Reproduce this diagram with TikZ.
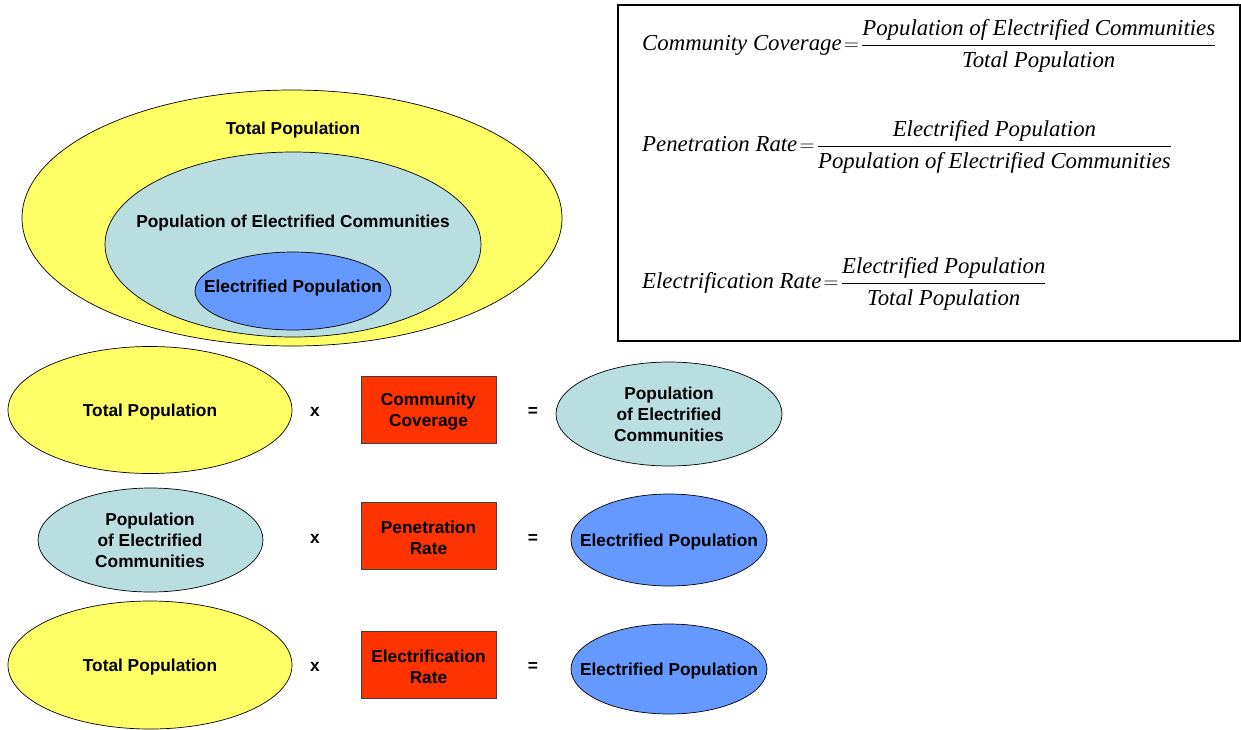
\documentclass[tikz,border=0pt]{standalone}
\usepackage{fontspec}
\setmainfont{Liberation Serif}
\newfontfamily\arialfont{Liberation Sans}
\usetikzlibrary{shapes.geometric}
\definecolor{popyellow}{HTML}{FFFF66}
\definecolor{popteal}{HTML}{B8DEE0}
\definecolor{popblue}{HTML}{6699FF}
\definecolor{popred}{HTML}{FF3300}
\newcommand{\fnum}[1]{\raisebox{1pt}{\itshape #1}}
\newcommand{\fden}[1]{\raisebox{-3pt}{\itshape #1}}
\tikzset{
  ell/.style={ellipse, draw=black, line width=0.7pt, inner sep=0pt},
  lbl/.style={font=\arialfont\bfseries\fontsize{17.3}{21}\selectfont, align=center, text=black, inner sep=0pt},
  lbls/.style={lbl, yshift=-2pt},
  factor/.style={rectangle, draw=black!75, line width=0.7pt, fill=popred, minimum width=135pt, minimum height=67pt, inner sep=0pt},
  formula/.style={anchor=base west, inner sep=0pt, font=\fontsize{22.8}{28}\selectfont},
  fbox/.style={draw=black, line width=1.6pt},
}
\begin{document}
\begin{tikzpicture}[x=1pt,y=-1pt]
\useasboundingbox (0,0) rectangle (1241,729);
% nested ellipses
\node[ell, fill=popyellow, minimum width=540pt, minimum height=256pt] (tp) at (292,218) {};
\node[ell, fill=popteal, minimum width=376pt, minimum height=185pt] (pec) at (293,244.5) {};
\node[ell, fill=popblue, minimum width=196pt, minimum height=78pt] (ep) at (293,291) {};
\node[lbls] (tpl) at (293,128) {Total Population};
\node[lbls] (pecl) at (293,221) {Population of Electrified Communities};
\node[lbls] (epl) at (293,286) {Electrified Population};
% row 1
\node[ell, fill=popyellow, minimum width=284pt, minimum height=127pt] (r1a) at (150,410) {};
\node[lbls] (r1al) at (150,410) {Total Population};
\node[lbls] (r1x) at (315,410) {x};
\node[factor] (r1b) at (428.5,409.5) {};
\node[lbls] (r1bl) at (428.5,409.5) {Community\\Coverage};
\node[lbls] (r1eq) at (533,410) {=};
\node[ell, fill=popteal, minimum width=226pt, minimum height=104pt] (r1c) at (669,414) {};
\node[lbl] (r1cl) at (669,414) {Population\\of Electrified\\Communities};
% row 2
\node[ell, fill=popteal, minimum width=225pt, minimum height=104pt] (r2a) at (150.5,540) {};
\node[lbl] (r2al) at (150,540) {Population\\of Electrified\\Communities};
\node[lbls] (r2x) at (315,537) {x};
\node[factor] (r2b) at (428.5,535.5) {};
\node[lbls] (r2bl) at (428.5,535.5) {Penetration\\Rate};
\node[lbls] (r2eq) at (533,537) {=};
\node[ell, fill=popblue, minimum width=196pt, minimum height=92pt] (r2c) at (669,540) {};
\node[lbls] (r2cl) at (669,540) {Electrified Population};
% row 3
\node[ell, fill=popyellow, minimum width=284pt, minimum height=128pt] (r3a) at (150,665) {};
\node[lbls] (r3al) at (150,665) {Total Population};
\node[lbls] (r3x) at (315,665) {x};
\node[factor] (r3b) at (428.5,664.5) {};
\node[lbls] (r3bl) at (428.5,664.5) {Electrification\\Rate};
\node[lbls] (r3eq) at (533,665) {=};
\node[ell, fill=popblue, minimum width=196pt, minimum height=90pt] (r3c) at (669,669) {};
\node[lbls] (r3cl) at (669,669) {Electrified Population};
% formula box
\draw[fbox] (618,5) rectangle (1240,341);
\node[formula] (f1) at (642,50.7) {\thickmuskip=2mu$\displaystyle\mbox{\itshape Community Coverage}=\frac{\fnum{Population of Electrified Communities}}{\fden{Total Population}}$};
\node[formula] (f2) at (642,151.7) {\thickmuskip=2mu$\displaystyle\mbox{\itshape Penetration Rate}=\frac{\fnum{Electrified Population}}{\fden{Population of Electrified Communities}}$};
\node[formula] (f3) at (642,288.7) {\thickmuskip=2mu$\displaystyle\mbox{\itshape Electrification Rate}=\frac{\fnum{Electrified Population}}{\fden{Total Population}}$};
\end{tikzpicture}
\end{document}
